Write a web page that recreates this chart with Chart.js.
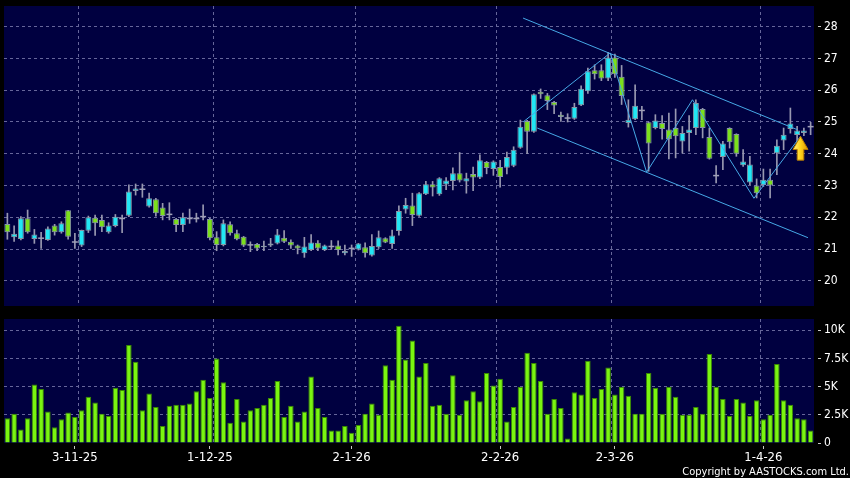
<!DOCTYPE html>
<html>
<head>
<meta charset="utf-8">
<script src="https://cdn.jsdelivr.net/npm/chart.js@4.4.1/dist/chart.umd.min.js"></script>
<style>
  html, body { margin: 0; padding: 0; background: #000; }
  #wrap { position: relative; width: 850px; height: 478px; overflow: hidden; background: #000; }
  #price { position: absolute; left: 0; top: 0; }
  #volume { position: absolute; left: 0; top: 312px; }
  #copy {
    position: absolute; right: 1px; top: 465px; color: #fff; white-space: nowrap;
    font-family: 'DejaVu Sans Condensed', 'Liberation Sans Narrow', 'DejaVu Sans', sans-serif;
    font-size: 11px; line-height: 13px;
  }
</style>
</head>
<body>
<div id="wrap">
  <canvas id="price" width="850" height="312"></canvas>
  <canvas id="volume" width="850" height="166"></canvas>
  <div id="copy">Copyright by AASTOCKS.com Ltd.</div>
</div>
<script>
// daily candles, oldest first
const opens = [
  21.79, 21.37, 21.32, 21.97, 21.32, 21.32, 21.29, 21.74, 21.53, 22.22,
  21.20, 21.11, 21.58, 21.99, 21.92, 21.53, 21.73, 21.94, 22.05, 22.83,
  22.86, 22.34, 22.57, 22.31, 22.07, 21.95, 21.76, 21.94, 21.94, 22.00,
  21.95, 21.37, 21.13, 21.78, 21.50, 21.39, 21.11, 21.16, 21.06, 21.18,
  21.18, 21.36, 21.23, 21.11, 20.87, 20.97, 21.20, 20.97, 21.06, 21.11,
  20.87, 21.00, 20.99, 21.06, 20.80, 21.06, 21.34, 21.16, 21.57, 22.25,
  22.37, 22.05, 22.73, 23.04, 22.73, 23.03, 23.14, 23.39, 23.13, 23.36,
  23.25, 23.74, 23.52, 23.58, 23.56, 23.62, 24.19, 25.03, 24.69, 25.95,
  25.84, 25.63, 25.23, 25.10, 25.10, 25.53, 25.97, 26.63, 26.63, 26.37,
  27.03, 26.42, 24.97, 25.09, 25.34, 24.99, 24.81, 24.97, 24.76, 24.81,
  24.39, 24.65, 24.81, 25.41, 24.53, 23.29, 23.90, 24.81, 24.62, 23.64,
  23.10, 23.00, 23.02, 23.18, 24.02, 24.42, 24.78, 24.59, 24.65, 24.83
];
const highs = [
  22.13, 21.73, 22.02, 22.23, 21.62, 21.53, 21.70, 21.78, 21.86, 22.22,
  21.50, 21.60, 22.04, 22.07, 22.07, 21.83, 22.09, 22.07, 23.02, 23.05,
  23.05, 22.76, 22.60, 22.44, 22.46, 21.97, 22.13, 22.26, 22.13, 22.39,
  21.97, 21.55, 21.92, 21.86, 21.60, 21.40, 21.23, 21.18, 21.25, 21.34,
  21.62, 21.58, 21.29, 21.13, 21.37, 21.46, 21.27, 21.13, 21.27, 21.26,
  21.13, 21.13, 21.18, 21.20, 21.46, 21.57, 21.36, 21.60, 22.36, 22.60,
  22.76, 22.78, 23.13, 23.13, 23.25, 23.25, 23.56, 24.04, 23.39, 23.58,
  23.97, 23.76, 23.78, 23.79, 24.05, 24.22, 25.06, 25.05, 25.89, 26.04,
  25.90, 25.65, 25.31, 25.26, 25.59, 26.14, 26.70, 26.80, 26.80, 27.19,
  27.14, 26.78, 25.70, 26.17, 25.49, 25.00, 25.23, 25.20, 25.28, 25.41,
  24.86, 25.20, 25.70, 25.43, 24.81, 23.63, 24.39, 24.82, 24.63, 24.13,
  23.92, 23.21, 23.52, 23.52, 24.44, 24.81, 25.44, 24.86, 24.81, 24.99
];
const lows = [
  21.31, 21.24, 21.29, 21.50, 21.18, 21.02, 21.27, 21.44, 21.50, 21.31,
  21.02, 21.08, 21.52, 21.43, 21.55, 21.50, 21.70, 21.52, 22.02, 22.70,
  22.63, 22.32, 22.04, 21.92, 21.92, 21.55, 21.55, 21.81, 21.85, 21.92,
  21.29, 20.95, 21.10, 21.44, 21.29, 21.08, 20.92, 20.95, 20.95, 21.08,
  21.16, 21.20, 21.02, 20.85, 20.74, 20.95, 20.95, 20.95, 20.99, 20.82,
  20.82, 20.77, 20.97, 20.75, 20.78, 21.02, 21.20, 21.02, 21.44, 22.13,
  21.74, 22.03, 22.71, 22.67, 22.69, 22.87, 22.86, 23.11, 22.76, 22.84,
  23.22, 23.37, 23.32, 22.95, 23.37, 23.59, 24.17, 24.00, 24.67, 25.74,
  25.39, 25.26, 25.02, 25.00, 25.08, 25.51, 25.90, 26.35, 26.30, 26.30,
  26.40, 25.55, 24.84, 25.07, 25.07, 23.45, 24.78, 24.46, 23.84, 23.87,
  24.02, 24.08, 24.60, 24.50, 23.83, 23.08, 23.50, 24.18, 23.92, 23.60,
  23.03, 22.61, 22.97, 22.61, 23.34, 24.13, 24.65, 24.34, 24.57, 24.60
];
const closes = [
  21.53, 21.48, 21.97, 21.53, 21.46, 21.32, 21.65, 21.53, 21.81, 21.39,
  21.20, 21.60, 22.00, 21.81, 21.69, 21.74, 22.02, 21.94, 22.81, 22.91,
  22.86, 22.60, 22.13, 22.04, 22.07, 21.76, 22.00, 21.94, 21.94, 22.00,
  21.34, 21.13, 21.81, 21.50, 21.31, 21.11, 21.11, 21.02, 21.10, 21.11,
  21.46, 21.23, 21.11, 21.02, 21.08, 21.21, 21.02, 21.11, 21.06, 20.97,
  20.94, 21.00, 21.18, 20.87, 21.10, 21.37, 21.21, 21.43, 22.20, 22.39,
  22.07, 22.76, 23.04, 22.94, 23.23, 23.16, 23.39, 23.16, 23.23, 23.25,
  23.80, 23.55, 23.76, 23.27, 23.90, 24.13, 24.85, 24.69, 25.87, 25.87,
  25.66, 25.52, 25.16, 25.10, 25.47, 26.05, 26.60, 26.50, 26.37, 27.03,
  26.50, 25.82, 25.07, 25.51, 25.34, 24.32, 25.05, 24.78, 24.46, 24.55,
  24.65, 24.76, 25.60, 24.81, 23.84, 23.29, 24.32, 24.36, 24.00, 23.76,
  23.66, 22.76, 23.18, 23.00, 24.25, 24.60, 24.95, 24.73, 24.73, 24.83
];
// volume in thousands
const volumes = [
  2.2, 2.6, 1.2, 2.2, 5.2, 4.8, 2.8, 1.4, 2.1, 2.7,
  2.3, 2.9, 4.1, 3.6, 2.6, 2.4, 4.9, 4.7, 8.7, 7.2,
  2.9, 4.4, 3.2, 1.5, 3.3, 3.4, 3.4, 3.5, 4.6, 5.6,
  4.0, 7.5, 5.4, 1.8, 3.9, 1.9, 2.9, 3.1, 3.4, 4.0,
  5.5, 2.3, 3.3, 1.9, 2.8, 5.9, 3.1, 2.3, 1.1, 1.1,
  1.5, 0.9, 1.6, 2.6, 3.5, 2.5, 6.9, 5.6, 10.4, 7.4,
  9.1, 5.9, 7.1, 3.3, 3.4, 2.6, 6.0, 2.5, 3.8, 4.6,
  3.7, 6.2, 5.1, 5.7, 1.9, 3.2, 5.0, 8.0, 7.1, 5.5,
  2.6, 3.9, 3.1, 0.4, 4.5, 4.3, 7.3, 4.0, 4.8, 6.7,
  4.3, 5.0, 4.2, 2.6, 2.6, 6.2, 4.9, 2.6, 5.0, 4.1,
  2.5, 2.5, 3.2, 2.6, 7.9, 5.0, 3.9, 2.4, 3.9, 3.6,
  2.4, 3.8, 2.1, 2.5, 7.0, 3.8, 3.4, 2.2, 2.1, 1.1
];
const categories = opens.map((_, i) => i);

const dateTicks = ['3-11-25', '1-12-25', '2-1-26', '2-2-26', '2-3-26', '1-4-26'];
const dateTickIdx = [10, 30, 51, 73, 90, 112];
const dateGridPos = [10.5, 30.5, 51.5, 72.5, 89.5, 111.5];
const priceTicks = [20, 21, 22, 23, 24, 25, 26, 27, 28];
const volTicks = [0, 2.5, 5, 7.5, 10];
const volTickLabels = ['0', '2.5K', '5K', '7.5K', '10K'];

// drawn trend lines, in (bar index, price)
const channelUpper = [{x: 76.4, y: 28.27}, {x: 117.0, y: 24.76}];
const channelLower = [{x: 78.5, y: 24.81}, {x: 118.6, y: 21.36}];
const zigzag = [
  {x: 76.4, y: 25.0}, {x: 89.3, y: 27.17}, {x: 94.7, y: 23.42},
  {x: 101.5, y: 25.7}, {x: 110.6, y: 22.6}, {x: 117.5, y: 24.55}
];
const arrowMark = {x: 117.5, top: 24.55, bottom: 23.8};

const FONT = "'DejaVu Sans Condensed', 'Liberation Sans Narrow', 'DejaVu Sans', sans-serif";
const NAVY = '#000040';
const GRID = '#66669a';
const UP = '#22e6f4';
const DOWN = '#7ce01c';
const DOJI = '#a0a0b8';
const EDGE = '#8896a6';
const WICK = '#9898b0';
const VOL = '#7af510';
const VOL_EDGE = '#3a8a00';
const LINE = '#46a8e6';

const candleColor = i => closes[i] > opens[i] ? UP : closes[i] < opens[i] ? DOWN : DOJI;

const plotBg = {
  id: 'plotBg',
  beforeDraw(chart) {
    const { ctx, chartArea: a } = chart;
    ctx.save();
    ctx.fillStyle = NAVY;
    ctx.fillRect(a.left, a.top, a.right - a.left, a.bottom - a.top);
    ctx.restore();
  }
};

const arrowPlugin = {
  id: 'arrowPlugin',
  afterDatasetsDraw(chart) {
    const { ctx, scales } = chart;
    const cx = scales.xl.getPixelForValue(arrowMark.x);
    const top = scales.y.getPixelForValue(arrowMark.top);
    const bot = scales.y.getPixelForValue(arrowMark.bottom);
    const head = (bot - top) * 0.55;
    ctx.save();
    const g = ctx.createLinearGradient(cx - 7, 0, cx + 7, 0);
    g.addColorStop(0, '#fff27a');
    g.addColorStop(0.5, '#ffd21a');
    g.addColorStop(1, '#e09a00');
    ctx.fillStyle = g;
    ctx.strokeStyle = '#b87c00';
    ctx.lineWidth = 1;
    ctx.beginPath();
    ctx.moveTo(cx, top);
    ctx.lineTo(cx + 7.5, top + head);
    ctx.lineTo(cx + 3.3, top + head);
    ctx.lineTo(cx + 3.3, bot);
    ctx.lineTo(cx - 3.3, bot);
    ctx.lineTo(cx - 3.3, top + head);
    ctx.lineTo(cx - 7.5, top + head);
    ctx.closePath();
    ctx.fill();
    ctx.stroke();
    ctx.restore();
  }
};

const noPadX = s => { s.paddingLeft = 0; s.paddingRight = 0; };

const gridAxis = () => ({
  type: 'linear',
  position: 'bottom',
  min: -0.5,
  max: 119.5,
  bounds: 'data',
  offset: false,
  afterBuildTicks: s => { s.ticks = dateGridPos.map(v => ({ value: v })); },
  afterFit: s => { s.height = 0; noPadX(s); },
  ticks: { display: false },
  grid: { color: GRID, drawTicks: false, offset: false },
  border: { display: false, dash: [3, 3] }
});

const rightAxis = (ticks, labels, min, max) => ({
  position: 'right',
  min: min,
  max: max,
  afterBuildTicks: s => { s.ticks = ticks.map(v => ({ value: v })); },
  afterFit: s => { s.width = 36; s.paddingTop = 0; s.paddingBottom = 0; },
  ticks: {
    color: '#fff',
    font: { family: FONT, size: 12 },
    padding: 3,
    callback: (v, i) => labels[i]
  },
  grid: {
    color: c => (c.tick && c.tick.value === 0) ? 'rgba(0,0,0,0)' : GRID,
    tickColor: '#c8c8c8',
    tickLength: 7,
    tickBorderDash: [0, 4, 3, 20]
  },
  border: { display: false, dash: [3, 3] }
});

const common = {
  responsive: false,
  animation: false,
  events: [],
  plugins: { legend: { display: false }, tooltip: { enabled: false } }
};

const trendLine = data => ({
  type: 'line',
  data: data,
  xAxisID: 'xl',
  yAxisID: 'y',
  borderColor: LINE,
  borderWidth: 1,
  pointRadius: 0,
  fill: false,
  tension: 0,
  order: 0
});

new Chart(document.getElementById('price'), {
  type: 'bar',
  data: {
    labels: categories,
    datasets: [
      trendLine(channelUpper),
      trendLine(channelLower),
      trendLine(zigzag),
      {
        data: lows.map((l, i) => [l, highs[i]]),
        backgroundColor: WICK,
        barThickness: 1,
        grouped: false,
        order: 2
      },
      {
        data: opens.map((o, i) => [o, closes[i]]),
        backgroundColor: categories.map(candleColor),
        borderColor: categories.map(i => opens[i] === closes[i] ? DOJI : EDGE),
        borderWidth: categories.map(i => opens[i] === closes[i] ? 0 : 1),
        borderSkipped: false,
        minBarLength: 1.5,
        barPercentage: 0.88,
        categoryPercentage: 1,
        grouped: false,
        order: 1
      }
    ]
  },
  options: {
    ...common,
    layout: { padding: { left: 4, top: 6, right: 0, bottom: 6 } },
    scales: {
      x: { type: 'category', display: false, offset: true },
      xl: gridAxis(),
      y: rightAxis(priceTicks, priceTicks.map(String), 19.21, 28.65)
    }
  },
  plugins: [plotBg, arrowPlugin]
});

new Chart(document.getElementById('volume'), {
  type: 'bar',
  data: {
    labels: categories,
    datasets: [{
      data: volumes,
      backgroundColor: VOL,
      borderColor: VOL_EDGE,
      borderWidth: 1,
      borderSkipped: 'start',
      barPercentage: 0.82,
      categoryPercentage: 1
    }]
  },
  options: {
    ...common,
    layout: { padding: { left: 4, top: 7, right: 0, bottom: 0 } },
    scales: {
      x: {
        type: 'category',
        offset: true,
        afterBuildTicks: s => { s.ticks = dateTickIdx.map(v => ({ value: v })); },
        afterFit: s => { s.height = 35; noPadX(s); },
        ticks: {
          color: '#fff',
          font: { family: FONT, size: 13 },
          padding: 1,
          autoSkip: false,
          maxRotation: 0,
          callback: (v, i) => dateTicks[i]
        },
        grid: {
          drawOnChartArea: false,
          offset: false,
          tickColor: '#c8c8c8',
          tickLength: 6,
          tickBorderDash: [0, 3, 3, 20]
        },
        border: { display: false }
      },
      xl: gridAxis(),
      y: rightAxis(volTicks, volTickLabels, 0, 11)
    }
  },
  plugins: [plotBg]
});
</script>
</body>
</html>
